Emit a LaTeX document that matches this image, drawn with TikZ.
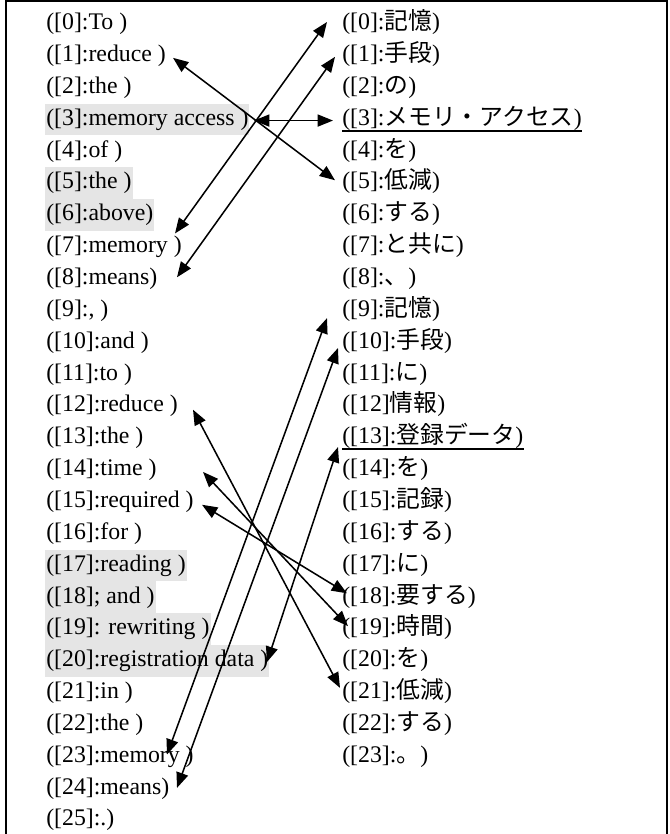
\documentclass[tikz,border=0pt]{standalone}
\usepackage{fontspec}
\setmainfont{Liberation Serif}
\newfontfamily\jpfont{Noto Sans CJK JP}
\newcommand\jpt[1]{{\jpfont #1}}
\usetikzlibrary{arrows.meta,calc}
\definecolor{hlgray}{RGB}{229,229,229}
\tikzset{
  mytip/.tip={Triangle[length=11.5pt,width=9pt]},
  word/.style={anchor=west, inner xsep=0.75pt, inner ysep=0pt,
    minimum height=23.9pt, text height=12.5pt, text depth=3.9pt,
    font=\fontsize{17.85}{20}\selectfont},
  hl/.style={fill=hlgray},
  conn/.style={mytip-mytip, line width=1.15pt, black},
  uline/.style={line width=1.2pt},
  frame/.style={line width=1.5pt}
}
\begin{document}
\begin{tikzpicture}[x=0.75pt,y=-0.75pt]
\useasboundingbox (0,0) rectangle (669,834);
\draw[frame] (6,836) -- (6,1) -- (667,1) -- (667,836);
% left column
\node[word] (l0) at (45,24) {([0]:To )};
\node[word] (l1) at (45,55.85) {([1]:reduce )};
\node[word] (l2) at (45,87.7) {([2]:the )};
\node[word,hl] (l3) at (45,119.55) {([3]:memory access )};
\node[word] (l4) at (45,151.4) {([4]:of )};
\node[word,hl] (l5) at (45,183.25) {([5]:the )};
\node[word,hl] (l6) at (45,215.1) {([6]:above)};
\node[word] (l7) at (45,246.95) {([7]:memory )};
\node[word] (l8) at (45,278.8) {([8]:means)};
\node[word] (l9) at (45,310.65) {([9]:, )};
\node[word] (l10) at (45,342.5) {([10]:and )};
\node[word] (l11) at (45,374.35) {([11]:to )};
\node[word] (l12) at (45,406.2) {([12]:reduce )};
\node[word] (l13) at (45,438.05) {([13]:the )};
\node[word] (l14) at (45,469.9) {([14]:time )};
\node[word] (l15) at (45,501.75) {([15]:required )};
\node[word] (l16) at (45,533.6) {([16]:for )};
\node[word,hl] (l17) at (45,565.45) {([17]:reading )};
\node[word,hl] (l18) at (45,597.3) {([18]; and )};
\node[word,hl] (l19) at (45,629.15) {([19]: rewriting )};
\node[word,hl] (l20) at (45,661) {([20]:registration data )};
\node[word] (l21) at (45,692.85) {([21]:in )};
\node[word] (l22) at (45,724.7) {([22]:the )};
\node[word] (l23) at (45,756.55) {([23]:memory )};
\node[word] (l24) at (45,788.4) {([24]:means)};
\node[word] (l25) at (45,820.25) {([25]:.)};
% right column
\node[word] (r0) at (341,24) {([0]:\jpt{記憶})};
\node[word] (r1) at (341,55.85) {([1]:\jpt{手段})};
\node[word] (r2) at (341,87.7) {([2]:\jpt{の})};
\node[word] (r3) at (341,119.55) {([3]:\jpt{メモリ・アクセス})};
\node[word] (r4) at (341,151.4) {([4]:\jpt{を})};
\node[word] (r5) at (341,183.25) {([5]:\jpt{低減})};
\node[word] (r6) at (341,215.1) {([6]:\jpt{する})};
\node[word] (r7) at (341,246.95) {([7]:\jpt{と共に})};
\node[word] (r8) at (341,278.8) {([8]:\jpt{、})};
\node[word] (r9) at (341,310.65) {([9]:\jpt{記憶})};
\node[word] (r10) at (341,342.5) {([10]:\jpt{手段})};
\node[word] (r11) at (341,374.35) {([11]:\jpt{に})};
\node[word] (r12) at (341,406.2) {([12]\jpt{情報})};
\node[word] (r13) at (341,438.05) {([13]:\jpt{登録データ})};
\node[word] (r14) at (341,469.9) {([14]:\jpt{を})};
\node[word] (r15) at (341,501.75) {([15]:\jpt{記録})};
\node[word] (r16) at (341,533.6) {([16]:\jpt{する})};
\node[word] (r17) at (341,565.45) {([17]:\jpt{に})};
\node[word] (r18) at (341,597.3) {([18]:\jpt{要する})};
\node[word] (r19) at (341,629.15) {([19]:\jpt{時間})};
\node[word] (r20) at (341,661) {([20]:\jpt{を})};
\node[word] (r21) at (341,692.85) {([21]:\jpt{低減})};
\node[word] (r22) at (341,724.7) {([22]:\jpt{する})};
\node[word] (r23) at (341,756.55) {([23]:\jpt{。})};
% underlines
\draw[uline] ([xshift=0.75pt,yshift=-4.1pt]r3.base west) -- ([xshift=-0.75pt,yshift=-4.1pt]r3.base east);
\draw[uline] ([xshift=0.75pt,yshift=-4.1pt]r13.base west) -- ([xshift=-0.75pt,yshift=-4.1pt]r13.base east);
% connectors
\draw[conn] ($(l1.west)+(128,2)$) -- ($(r5.west)+(-6,-3)$);
\draw[conn] ($(l3.west)+(209,1)$) -- ($(r3.west)+(-8,1)$);
\draw[conn] ($(l7.west)+(130,-13.5)$) -- ($(r0.west)+(-14,-2)$);
\draw[conn] ($(l8.west)+(132,-1.5)$) -- ($(r1.west)+(-6,1)$);
\draw[conn] ($(l23.west)+(122,-2)$) -- ($(r9.west)+(-14,7.5)$);
\draw[conn] ($(l24.west)+(132,-0.5)$) -- ($(r10.west)+(-3,5.5)$);
\draw[conn] ($(l20.west)+(222,1)$) -- ($(r13.west)+(-3,9)$);
\draw[conn] ($(l12.west)+(148,3.5)$) -- ($(r21.west)+(-1,-5)$);
\draw[conn] ($(l14.west)+(158,2)$) -- ($(r19.west)+(7,-3)$);
\draw[conn] ($(l15.west)+(157,3)$) -- ($(r18.west)+(6,-4)$);
\end{tikzpicture}
\end{document}
